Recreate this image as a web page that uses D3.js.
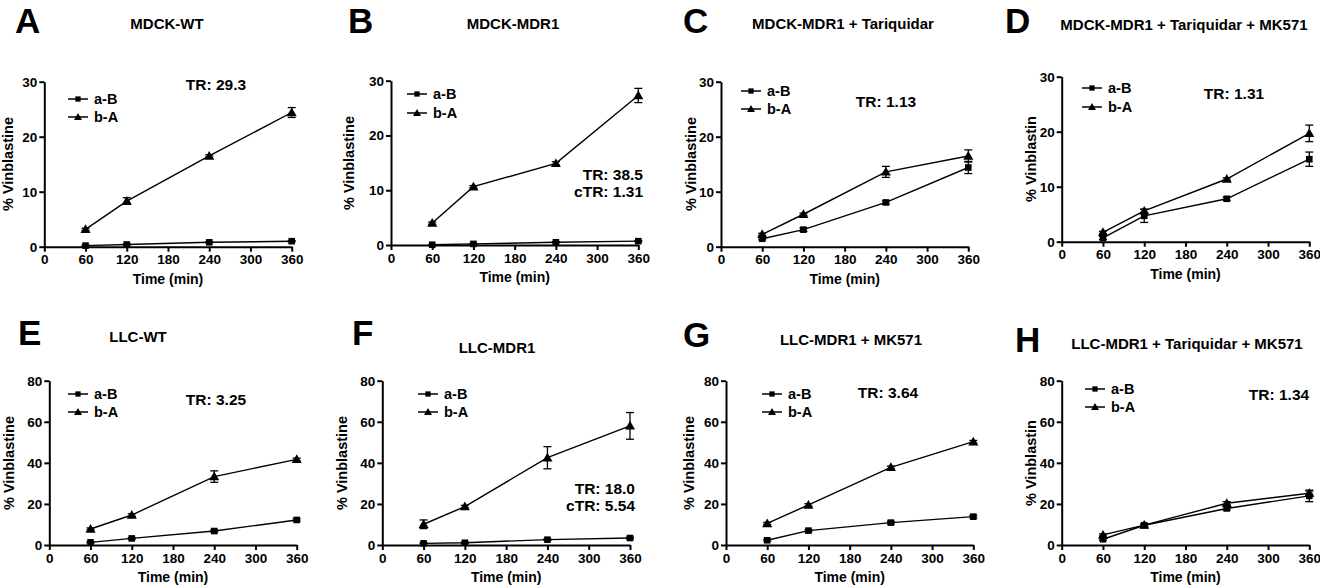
<!DOCTYPE html>
<html><head><meta charset="utf-8">
<script src="https://cdn.jsdelivr.net/npm/d3@7"></script>
<style>
html,body{margin:0;padding:0;background:#fff;}
text{font-family:"Liberation Sans",Arial,sans-serif;font-weight:bold;fill:#000;}
</style></head>
<body>
<svg id="chart" width="1320" height="587"></svg>
<script>
// ---- data ----
const times = [60, 120, 240, 360];
const xTicks = [0, 60, 120, 180, 240, 300, 360];
const yTicksTop = [0, 10, 20, 30];
const yTicksBottom = [0, 20, 40, 60, 80];
const letters = ["A", "B", "C", "D", "E", "F", "G", "H"];
const titles = ["MDCK-WT", "MDCK-MDR1", "MDCK-MDR1 + Tariquidar", "MDCK-MDR1 + Tariquidar + MK571",
                "LLC-WT", "LLC-MDR1", "LLC-MDR1 + MK571", "LLC-MDR1 + Tariquidar + MK571"];
const yLabels = ["% Vinblastine", "% Vinblastine", "% Vinblastine", "% Vinblastin",
                 "% Vinblastine", "% Vinblastine", "% Vinblastine", "% Vinblastin"];
const xLabel = "Time (min)";
const seriesNames = ["a-B", "b-A"];
const abMean = [
  [0.2, 0.4, 0.8, 1.0],
  [0.05, 0.2, 0.5, 0.7],
  [1.45, 3.1, 8.05, 14.4],
  [0.7, 4.7, 7.8, 15.0],
  [1.3, 3.2, 6.8, 12.2],
  [0.8, 1.1, 2.6, 3.4],
  [2.3, 7.0, 10.9, 13.8],
  [2.8, 9.6, 17.8, 23.9]
];
const abErr = [
  [0.1, 0.1, 0.1, 0.1],
  [0.05, 0.1, 0.1, 0.1],
  [0.2, 0.3, 0.3, 1.1],
  [0.3, 1.2, 0.3, 1.3],
  [0.3, 0.4, 0.5, 0.6],
  [0.2, 0.3, 0.4, 0.4],
  [0.4, 0.5, 0.6, 0.6],
  [0.5, 0.6, 0.8, 2.8]
];
const baMean = [
  [3.15, 8.3, 16.5, 24.4],
  [4.0, 10.65, 14.9, 27.3],
  [2.25, 5.9, 13.6, 16.5],
  [1.7, 5.6, 11.4, 19.7],
  [7.8, 14.6, 33.3, 41.7],
  [10.1, 18.7, 42.5, 58.0],
  [10.5, 19.5, 37.8, 50.3],
  [4.9, 9.7, 20.3, 25.2]
];
const baErr = [
  [0.2, 0.6, 0.2, 0.9],
  [0.2, 0.2, 0.3, 1.3],
  [0.2, 0.2, 1.0, 1.1],
  [0.2, 0.3, 0.2, 1.5],
  [0.5, 0.6, 2.8, 0.6],
  [2.1, 0.6, 5.4, 6.5],
  [0.5, 0.6, 0.6, 0.6],
  [0.5, 0.6, 0.8, 1.1]
];
const trTexts = [["TR: 29.3"], ["TR: 38.5", "cTR: 1.31"], ["TR: 1.13"], ["TR: 1.31"],
                 ["TR: 3.25"], ["TR: 18.0", "cTR: 5.54"], ["TR: 3.64"], ["TR: 1.34"]];

// ---- layout (positions only) ----
const layout = [
  {px:[44.3,291.7], py:[246.7,81.7], letter:[15,33], title:[167,29], ylab:[13,164], leg:[68,99,18], tr:[216,90,"middle"]},
  {px:[391,638.3], py:[245,80.7], letter:[348,33], title:[513,29], ylab:[354,163], leg:[407,94,19], tr:[643,180,"end"]},
  {px:[721,968.3], py:[246.7,81.7], letter:[683,33], title:[843,29], ylab:[696,164], leg:[741,91,18], tr:[886,107,"middle"]},
  {px:[1061.7,1309.3], py:[241.7,76.7], letter:[1005,33], title:[1184,30], ylab:[1036,159], leg:[1082,88,19], tr:[1234,99,"middle"]},
  {px:[49.3,296.7], py:[545,380.7], letter:[18,345], title:[138,342], ylab:[14,463], leg:[68,394,18], tr:[216,405,"middle"]},
  {px:[382.3,630], py:[545,380.7], letter:[352,345], title:[497,353], ylab:[347,463], leg:[418,394,18], tr:[635,494,"end"]},
  {px:[726,973.3], py:[545,380.7], letter:[683,347], title:[851,345], ylab:[694,463], leg:[762,394,18], tr:[888,398,"middle"]},
  {px:[1061.7,1309.3], py:[545,380.7], letter:[1015,352], title:[1187,349], ylab:[1036,463], leg:[1085,389,18], tr:[1279,400,"middle"]}
];

const svg = d3.select("#chart");

function drawMarker(g, type, cx, cy, k) {
  if (type === 0) {
    const h = 3.3 * k;
    g.append("rect").attr("x", cx - h).attr("y", cy - h).attr("width", 2 * h).attr("height", 2 * h).attr("fill", "#000");
  } else {
    g.append("path").attr("d", d3.symbol().type(d3.symbolTriangle).size(44 * k * k)()).attr("transform", `translate(${cx},${cy + 0.8 * k})`).attr("fill", "#000");
  }
}

letters.forEach((L, i) => {
  const lay = layout[i];
  const g = svg.append("g");
  const yMax = i < 4 ? 30 : 80;
  const yTicks = i < 4 ? yTicksTop : yTicksBottom;
  const x = d3.scaleLinear().domain([0, 360]).range(lay.px);
  const y = d3.scaleLinear().domain([0, yMax]).range(lay.py);

  // letter & title
  g.append("text").attr("x", lay.letter[0]).attr("y", lay.letter[1]).attr("font-size", 35).text(L);
  g.append("text").attr("x", lay.title[0]).attr("y", lay.title[1]).attr("font-size", 15).attr("text-anchor", "middle").text(titles[i]);

  // axes
  const xAxis = d3.axisBottom(x).tickValues(xTicks).tickSize(5).tickSizeOuter(0).tickPadding(3);
  const yAxis = d3.axisLeft(y).tickValues(yTicks).tickSize(5).tickSizeOuter(0).tickPadding(2);
  const gx = g.append("g").attr("transform", `translate(0,${lay.py[0]})`).call(xAxis);
  const gy = g.append("g").attr("transform", `translate(${lay.px[0]},0)`).call(yAxis);
  [gx, gy].forEach(a => {
    a.select(".domain").attr("stroke", "#000").attr("stroke-width", 2);
    a.selectAll(".tick line").attr("stroke", "#000").attr("stroke-width", 2);
    a.selectAll(".tick text").attr("font-size", 13.5).attr("fill", "#000")
      .style("font-family", '"Liberation Sans",Arial,sans-serif').style("font-weight", "bold");
  });

  // axis labels
  g.append("text").attr("x", (lay.px[0] + lay.px[1]) / 2).attr("y", lay.py[0] + 37)
    .attr("text-anchor", "middle").attr("font-size", 14).text(xLabel);
  g.append("text").attr("transform", `translate(${lay.ylab[0]},${lay.ylab[1]}) rotate(-90)`)
    .attr("text-anchor", "middle").attr("font-size", 14.5).text(yLabels[i]);

  // series
  const series = [[abMean[i], abErr[i]], [baMean[i], baErr[i]]];
  const line = d3.line().x(d => x(d[0])).y(d => y(d[1]));
  series.forEach(([m, e], s) => {
    const pts = times.map((t, k) => [t, m[k], e[k]]);
    g.append("path").attr("d", line(pts)).attr("fill", "none").attr("stroke", "#000").attr("stroke-width", 1.4);
    pts.forEach(p => {
      const cx = x(p[0]);
      const yt = y(p[1] + p[2]), yb = y(Math.max(0, p[1] - p[2]));
      g.append("line").attr("x1", cx).attr("x2", cx).attr("y1", yt).attr("y2", yb).attr("stroke", "#000").attr("stroke-width", 1.3);
      [yt, yb].forEach(yy => g.append("line").attr("x1", cx - 4).attr("x2", cx + 4).attr("y1", yy).attr("y2", yy).attr("stroke", "#000").attr("stroke-width", 1.3));
      drawMarker(g, s, cx, y(p[1]), 1);
    });
  });

  // legend
  seriesNames.forEach((nm, s) => {
    const ly = lay.leg[1] + s * lay.leg[2];
    const lx = lay.leg[0];
    g.append("line").attr("x1", lx).attr("x2", lx + 20).attr("y1", ly).attr("y2", ly).attr("stroke", "#000").attr("stroke-width", 1.5);
    drawMarker(g, s, lx + 10, ly, 0.8);
    g.append("text").attr("x", lx + 26).attr("y", ly + 5).attr("font-size", 14.5).text(nm);
  });

  // TR annotation
  trTexts[i].forEach((t, k) => {
    g.append("text").attr("x", lay.tr[0]).attr("y", lay.tr[1] + k * 17).attr("text-anchor", lay.tr[2])
      .attr("font-size", 15.5).text(t);
  });
});
</script>
</body></html>
